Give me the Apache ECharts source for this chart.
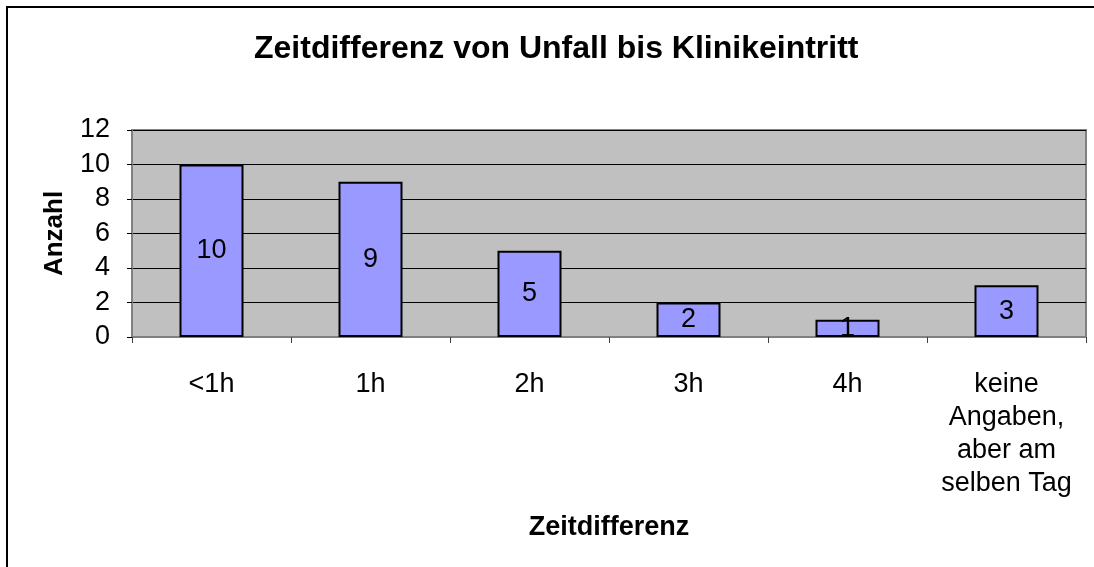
<!DOCTYPE html>
<html>
<head>
<meta charset="utf-8">
<script src="https://cdn.jsdelivr.net/npm/echarts@6/dist/echarts.min.js"></script>
<style>
html,body{margin:0;padding:0;background:#fff;}
#chart{width:1094px;height:567px;}
</style>
</head>
<body>
<div id="chart"></div>
<script>
const titleText = 'Zeitdifferenz von Unfall bis Klinikeintritt';
const categories = ['<1h', '1h', '2h', '3h', '4h', 'keine\nAngaben,\naber am\nselben Tag'];
const counts = [10, 9, 5, 2, 1, 3];
const xAxisName = 'Zeitdifferenz';
const yAxisName = 'Anzahl';

const FONT = 'Liberation Sans, Arial, sans-serif';
const chart = echarts.init(document.getElementById('chart'), null, {renderer: 'canvas'});
chart.setOption({
  backgroundColor: '#ffffff',
  animation: false,
  title: {
    text: titleText,
    left: 254,
    top: 33,
    padding: 0,
    textStyle: {fontFamily: FONT, fontSize: 32, fontWeight: 'bold', color: '#000'}
  },
  graphic: [{
    type: 'rect',
    silent: true,
    shape: {x: 7, y: 7, width: 1200, height: 700},
    style: {fill: 'none', stroke: '#000', lineWidth: 2},
    z: 100
  }],
  grid: {
    left: 132, right: 8, top: 130, bottom: 230,
    show: true,
    backgroundColor: '#C0C0C0',
    borderColor: '#808080',
    borderWidth: 2
  },
  xAxis: {
    type: 'category',
    data: categories,
    boundaryGap: true,
    name: xAxisName,
    nameLocation: 'middle',
    nameGap: 177,
    nameTextStyle: {fontFamily: FONT, fontSize: 27, fontWeight: 'bold', color: '#000'},
    axisLine: {show: true, lineStyle: {color: '#808080', width: 2}},
    axisTick: {show: true, alignWithLabel: false, length: 6, lineStyle: {color: '#404040', width: 1}},
    axisLabel: {interval: 0, margin: 31, fontFamily: FONT, fontSize: 27, lineHeight: 33, color: '#000', align: 'center'},
    splitLine: {show: false}
  },
  yAxis: {
    type: 'value',
    min: 0, max: 12, interval: 2,
    name: yAxisName,
    nameLocation: 'middle',
    nameGap: 64,
    nameRotate: 90,
    nameTextStyle: {fontFamily: FONT, fontSize: 26, fontWeight: 'bold', color: '#000'},
    axisLine: {show: true, lineStyle: {color: '#808080', width: 2}},
    axisTick: {show: true, length: 5, lineStyle: {color: '#000', width: 1}},
    axisLabel: {margin: 22, fontFamily: FONT, fontSize: 27, color: '#000'},
    splitLine: {show: true, lineStyle: {color: '#000', width: 1}}
  },
  series: [{
    type: 'bar',
    data: counts,
    barWidth: 64,
    itemStyle: {color: '#9999FF', borderColor: '#000', borderWidth: 2},
    label: {show: true, position: 'inside', fontFamily: FONT, fontSize: 27, color: '#000'}
  }]
});
</script>
</body>
</html>
